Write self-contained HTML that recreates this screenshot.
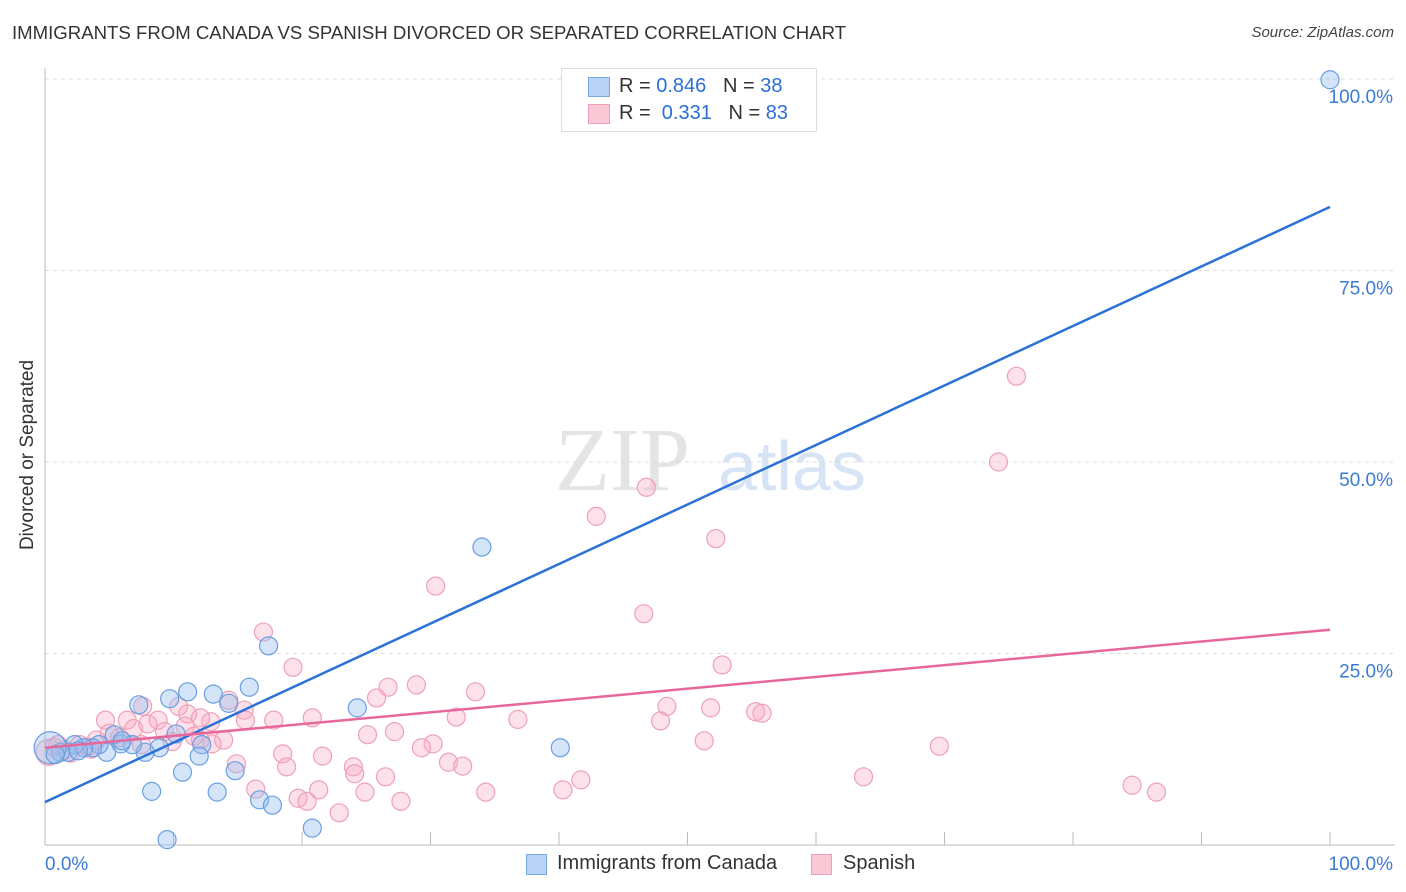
<!DOCTYPE html>
<html><head><meta charset="utf-8">
<style>
body{margin:0;background:#fff;font-family:"Liberation Sans",sans-serif;}
#wrap{position:relative;width:1406px;height:892px;overflow:hidden;}
.t{position:absolute;white-space:nowrap;}
</style></head>
<body>
<div id="wrap">
<div class="t" style="left:12px;top:22px;font-size:18.6px;color:#333;">IMMIGRANTS FROM CANADA VS SPANISH DIVORCED OR SEPARATED CORRELATION CHART</div>
<div class="t" style="right:12px;top:24px;font-size:15px;color:#444;font-style:italic;">Source: ZipAtlas.com</div>
<div class="t" style="left:28px;top:455px;font-size:19px;color:#333;transform:translate(-50%,-50%) rotate(-90deg);">Divorced or Separated</div>
<svg id="svg" width="1406" height="892" style="position:absolute;left:0;top:0"></svg>
<div style="position:absolute;left:561px;top:68px;width:254px;height:62px;border:1px solid #ddd;background:#fff;font-size:20px;">
 <div style="position:absolute;left:26px;top:8px;width:20px;height:18px;background:#b8d3f5;border:1px solid #7aa8e0"></div>
 <div class="t" style="left:57px;top:6px;color:#333">R = <span style="color:#2a6fd6">0.846</span>&nbsp;&nbsp;&nbsp;N = <span style="color:#2a6fd6">38</span></div>
 <div style="position:absolute;left:26px;top:35px;width:20px;height:18px;background:#fbc8d7;border:1px solid #eea0b8"></div>
 <div class="t" style="left:57px;top:33px;color:#333">R = &nbsp;<span style="color:#2a6fd6">0.331</span>&nbsp;&nbsp;&nbsp;N = <span style="color:#2a6fd6">83</span></div>
</div>
<div>
 <div style="position:absolute;left:526px;top:854px;width:19px;height:19px;background:#b8d3f5;border:1px solid #7aa8e0"></div>
 <div class="t" style="left:557px;top:852px;font-size:20px;color:#333">Immigrants from Canada</div>
 <div style="position:absolute;left:811px;top:854px;width:19px;height:19px;background:#fbc8d7;border:1px solid #eea0b8"></div>
 <div class="t" style="left:843px;top:852px;font-size:20px;color:#333">Spanish</div>
</div>
</div>
<script>
const yTicks=[100,75,50,25];
const yTickLabels=["100.0%","75.0%","50.0%","25.0%"];
const xLabels=["0.0%","100.0%"];
const blueX=[100,34.0,17.4,15.9,13.1,11.1,9.7,7.3,14.3,24.3,40.1,10.2,12.2,8.9,7.8,6.8,5.9,4.8,4.2,3.7,3.0,2.3,1.8,1.2,0.4,12.0,10.7,14.8,8.3,13.4,16.7,17.7,20.8,9.5,5.4,6.0,0.8,2.6];
const blueY=[99.9,38.9,26.0,20.6,19.7,20.0,19.1,18.3,18.5,17.9,12.7,14.5,13.1,12.7,12.1,13.1,13.2,12.1,13.1,12.7,12.7,13.1,12.1,12.1,12.7,11.6,9.5,9.7,7.0,6.9,5.9,5.2,2.2,0.7,14.4,13.6,11.8,12.3];
const pinkX=[75.6,74.2,46.8,42.9,52.2,30.4,46.6,17.0,19.3,52.7,26.7,28.9,33.5,25.8,48.4,51.8,55.3,55.8,36.8,32.0,20.8,47.9,15.5,14.3,10.4,7.6,4.7,6.4,8.8,11.1,12.9,15.6,17.8,25.1,27.2,30.2,29.3,51.3,69.6,18.5,21.6,18.8,24.0,24.1,26.5,31.4,32.5,14.9,63.7,41.7,40.3,34.3,21.3,16.4,24.9,19.7,20.4,27.7,22.9,84.6,86.5,4.0,2.7,1.6,1.0,12.1,13.9,5.8,10.9,12.1,7.5,0.3,3.3,9.3,11.6,2.0,6.9,8.0,9.9,3.6,0.7,5.0,13.0];
const pinkY=[61.2,50.0,46.7,42.9,40.0,33.8,30.2,27.8,23.2,23.5,20.6,20.9,20.0,19.2,18.1,17.9,17.4,17.2,16.4,16.7,16.6,16.2,17.6,18.9,18.1,18.1,16.3,16.3,16.3,17.1,16.1,16.3,16.3,14.4,14.8,13.2,12.7,13.6,12.9,11.9,11.6,10.2,10.2,9.3,8.9,10.8,10.3,10.6,8.9,8.5,7.2,6.9,7.2,7.3,6.9,6.1,5.7,5.7,4.2,7.8,6.9,13.7,13.1,12.4,13.1,13.7,13.7,14.0,15.5,16.6,13.1,12.1,12.8,14.8,14.2,12.0,15.2,15.8,13.5,12.5,12.8,14.6,13.2];
const blueLine=[5.6,83.3];
const pinkLine=[12.7,28.1];
const X=v=>45+v*12.85, Y=v=>845-v*7.66;
const svg=document.getElementById('svg'),NS='http://www.w3.org/2000/svg';
function mk(t,a,p){const e=document.createElementNS(NS,t);for(const k in a)e.setAttribute(k,a[k]);(p||svg).appendChild(e);return e;}
let w=mk('text',{x:555,y:490,'font-family':'Liberation Serif',"font-size":90,fill:'#e4e4e4'});w.textContent='ZIP';


let w2=mk('text',{x:718,y:490,'font-family':'Liberation Sans',"font-size":70,fill:'#d6e4f5'});w2.textContent='atlas';


yTicks.forEach((v,i)=>{
 const g=mk('line',{x1:45,x2:1395,y1:Y(v),y2:Y(v),stroke:'#ddd','stroke-dasharray':'4,4'});
 
 
 const t=mk('text',{x:1393,y:Y(v)+24,'text-anchor':'end','font-size':19,fill:'#3a7bd5','font-family':'Liberation Sans'});t.textContent=yTickLabels[i];
 
 
});
mk('line',{x1:45,x2:45,y1:68,y2:845,stroke:'#bbb'});
mk('line',{x1:45,x2:1395,y1:845,y2:845,stroke:'#bbb'});
for(let i=1;i<=10;i++){const l=mk('line',{x1:X(i*10),x2:X(i*10),y1:832,y2:845,stroke:'#bbb'});
 
 }
const xl0=mk('text',{x:45,y:870,'font-size':19,fill:'#3a7bd5','font-family':'Liberation Sans'});xl0.textContent=xLabels[0];


const xl1=mk('text',{x:1393,y:870,'text-anchor':'end','font-size':19,fill:'#3a7bd5','font-family':'Liberation Sans'});xl1.textContent=xLabels[1];


pinkX.forEach((x,i)=>{const c=mk('circle',{cx:X(x),cy:Y(pinkY[i]),r:i==71?13:9,fill:'rgba(248,170,195,0.35)',stroke:'#eea0b8','stroke-width':1.2});
 
 });
blueX.forEach((x,i)=>{const c=mk('circle',{cx:X(x),cy:Y(blueY[i]),r:i==24?16:9,fill:'rgba(150,190,240,0.4)',stroke:'#6a9fe0','stroke-width':1.2});
 
 });
const bl=mk('line',{x1:X(0),y1:Y(blueLine[0]),x2:X(100),y2:Y(blueLine[1]),stroke:'#2a72d8','stroke-width':2.5});


const pl=mk('line',{x1:X(0),y1:Y(pinkLine[0]),x2:X(100),y2:Y(pinkLine[1]),stroke:'#e8679a','stroke-width':2.5});


</script>
</body></html>
